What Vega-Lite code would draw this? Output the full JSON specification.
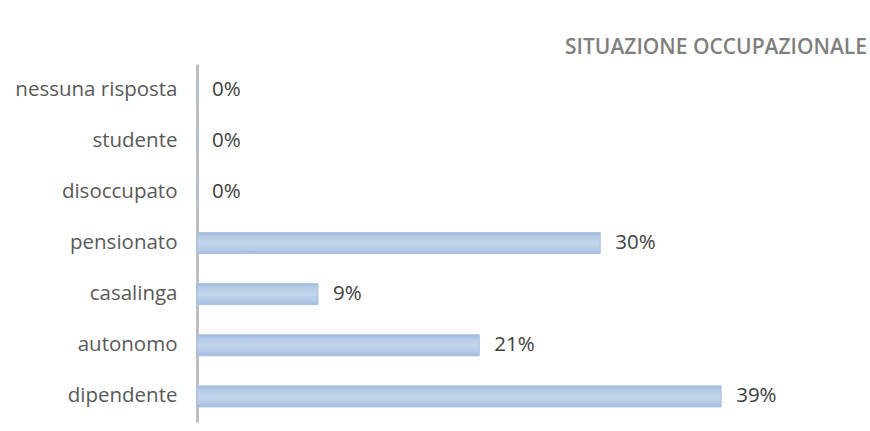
{
  "$schema": "https://vega.github.io/schema/vega-lite/v6.json",
  "autosize": "none",
  "width": 672,
  "height": 358,
  "padding": {"left": 197, "top": 64, "right": 1, "bottom": 9},
  "background": "white",
  "title": {
    "text": "SITUAZIONE OCCUPAZIONALE",
    "anchor": "end",
    "font": "Open Sans",
    "fontSize": 21,
    "fontWeight": 600,
    "color": "#7f7f7f",
    "offset": 6,
    "dx": -2
  },
  "data": {
    "values": [
      {"categoria": "nessuna risposta", "quota": 0},
      {"categoria": "studente", "quota": 0},
      {"categoria": "disoccupato", "quota": 0},
      {"categoria": "pensionato", "quota": 0.30},
      {"categoria": "casalinga", "quota": 0.09},
      {"categoria": "autonomo", "quota": 0.21},
      {"categoria": "dipendente", "quota": 0.39}
    ]
  },
  "encoding": {
    "y": {
      "field": "categoria",
      "type": "nominal",
      "sort": ["nessuna risposta", "studente", "disoccupato", "pensionato", "casalinga", "autonomo", "dipendente"],
      "scale": {"paddingInner": 0.59, "paddingOuter": 0.295},
      "axis": {
        "title": null,
        "ticks": false,
        "domainColor": "#bfbfbf",
        "domainWidth": 3,
        "labelFont": "Open Sans",
        "labelFontSize": 20.5,
        "labelColor": "#595959",
        "labelPadding": 20
      }
    },
    "x": {
      "field": "quota",
      "type": "quantitative",
      "scale": {"domain": [0, 0.5], "nice": false},
      "axis": null
    }
  },
  "layer": [
    {
      "mark": {
        "type": "bar",
        "stroke": "#a9c1e0",
        "strokeWidth": 1,
        "color": {
          "gradient": "linear",
          "x1": 0, "y1": 0, "x2": 0, "y2": 1,
          "stops": [
            {"offset": 0, "color": "#9fbade"},
            {"offset": 0.2, "color": "#b6cbe7"},
            {"offset": 0.5, "color": "#c3d5eb"},
            {"offset": 0.8, "color": "#b6cbe7"},
            {"offset": 1, "color": "#9fbade"}
          ]
        }
      }
    },
    {
      "mark": {
        "type": "text",
        "align": "left",
        "baseline": "middle",
        "dx": 15,
        "font": "Open Sans",
        "fontSize": 20.5,
        "color": "#404040"
      },
      "encoding": {
        "text": {"field": "quota", "type": "quantitative", "format": ".0%"}
      }
    }
  ],
  "config": {
    "view": {"stroke": null}
  }
}
